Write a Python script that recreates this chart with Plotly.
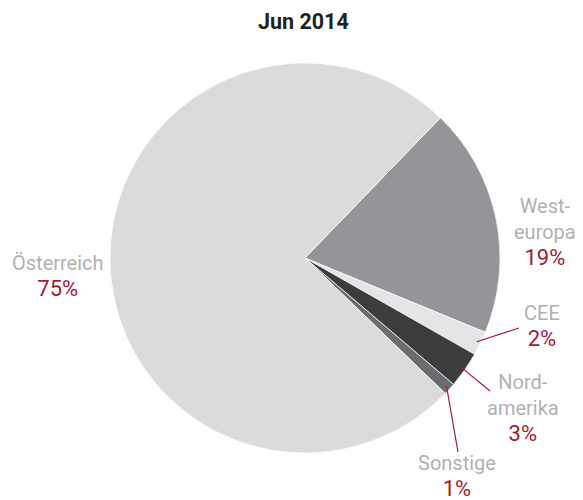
import math
import plotly.graph_objects as go

categories = ["Westeuropa", "CEE", "Nordamerika", "Sonstige", "Österreich"]
label_lines = [["West-", "europa"], ["CEE"], ["Nord-", "amerika"], ["Sonstige"], ["Österreich"]]
values = [19, 2, 3, 1, 75]
colors = ["#939598", "#e4e5e6", "#3c3c3c", "#6b6c6f", "#dcdbdc"]
title = "Jun 2014"

# page has an 8px body margin, so the figure is offset
OFF = 8
W, H = 583 - OFF, 500 - OFF
CX, CY, R = 305 - OFF, 258 - OFF, 195
ROT = 44

# label centers (reference pixels) and leader-line ends
label_pos = [(545, 232), (542, 326), (523, 408), (457, 476), (58, 276)]
leader_end = [None, (519, 328), (490, 391), (458, 452), None]

GRAY = "#b1b1b3"
RED = "#a31a32"
FONT = "Roboto"


def px(x, y):
    return (x - OFF) / W, 1 - (y - OFF) / H


fig = go.Figure(go.Pie(
    labels=categories, values=values, sort=False, direction="clockwise",
    rotation=ROT, textinfo="none", hoverinfo="label+percent",
    marker=dict(colors=colors, line=dict(color="white", width=0.7)),
    domain=dict(x=[(CX - R) / W, (CX + R) / W], y=[1 - (CY + R) / H, 1 - (CY - R) / H]),
    showlegend=False,
))

total = sum(values)
cum = 0
annotations = []
shapes = []
for cat, lines, v, pos, end in zip(categories, label_lines, values, label_pos, leader_end):
    mid = ROT + 360 * (cum + v / 2) / total
    cum += v
    pct = round(100 * v / total)
    txt = "<br>".join(f"<span style='color:{GRAY}'>{l}</span>" for l in lines)
    txt += f"<br><span style='color:{RED};font-size:22px'>{pct}%</span>"
    ax, ay = px(*pos)
    annotations.append(dict(x=ax, y=ay, xref="paper", yref="paper",
                            text=txt, showarrow=False, align="center",
                            xanchor="center", yanchor="middle",
                            font=dict(family=FONT, size=20, color=GRAY)))
    if end is not None:
        a = math.radians(mid)
        sx = CX + 0.98 * R * math.sin(a)
        sy = CY - 0.98 * R * math.cos(a)
        ex, ey = px(*end)
        shapes.append(dict(type="line", xref="paper", yref="paper",
                           x0=sx / W, y0=1 - sy / H, x1=ex, y1=ey,
                           line=dict(color=RED, width=1.2)))

tx, ty = px(303, 22)
annotations.append(dict(x=tx, y=ty, xref="paper", yref="paper",
                        text=f"<b>{title}</b>", showarrow=False,
                        xanchor="center", yanchor="middle",
                        font=dict(family=FONT, size=21.5, color="#231f20")))

fig.update_layout(width=W, height=H, margin=dict(l=0, r=0, t=0, b=0),
                  paper_bgcolor="white", plot_bgcolor="white",
                  annotations=annotations, shapes=shapes)
fig.write_html("out.html")
